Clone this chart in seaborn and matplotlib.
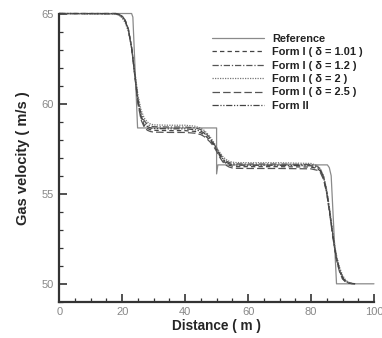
import matplotlib
matplotlib.use("Agg")
import matplotlib.pyplot as plt
import seaborn as sns
import pandas as pd
from matplotlib.ticker import MultipleLocator

# ---- data ----
x_ref = [0, 23.0, 23.4, 24.9, 50.0, 50.0, 50.4, 85.2, 85.8, 86.4, 88.1, 100]
y_ref = [65, 65, 64.8, 58.65, 58.65, 56.1, 56.6, 56.6, 56.45, 56.0, 50.0, 50.0]

x_num = [0, 18, 19, 20, 21, 22, 23, 24, 25, 26, 27, 28, 29, 30, 35, 40, 43, 45, 46, 47,
         48, 49, 50, 51, 52, 53, 54, 55, 56, 60, 70, 80, 82, 83, 84, 85, 86, 87, 88, 89,
         90, 91, 92, 93, 94]

y_f101 = [65.0, 65.0, 64.95, 64.85, 64.6, 64.1, 63.1, 61.6, 60.1, 59.2,
          58.8, 58.62, 58.55, 58.52, 58.5, 58.5, 58.46, 58.38, 58.28, 58.12,
          57.95, 57.72, 57.42, 57.1, 56.85, 56.68, 56.58, 56.53, 56.5, 56.5,
          56.5, 56.48, 56.4, 56.25, 55.85, 55.05, 53.85, 52.55, 51.45, 50.75,
          50.3, 50.12, 50.04, 50.01, 50.0]
y_f12 = [65.0, 64.98, 64.92, 64.8, 64.55, 64.05, 63.1, 61.7, 60.3, 59.45,
         59.05, 58.85, 58.76, 58.72, 58.7, 58.7, 58.66, 58.56, 58.45, 58.28,
         58.08, 57.82, 57.52, 57.22, 56.98, 56.82, 56.73, 56.68, 56.66, 56.65,
         56.65, 56.62, 56.52, 56.35, 55.95, 55.15, 53.95, 52.65, 51.55, 50.85,
         50.4, 50.16, 50.06, 50.02, 50.0]
y_f2 = [65.0, 64.97, 64.9, 64.75, 64.48, 63.98, 63.1, 61.8, 60.5, 59.65,
        59.2, 58.98, 58.87, 58.82, 58.8, 58.8, 58.75, 58.64, 58.52, 58.35,
        58.14, 57.88, 57.58, 57.3, 57.06, 56.9, 56.8, 56.75, 56.73, 56.72,
        56.72, 56.68, 56.56, 56.38, 55.98, 55.2, 54.05, 52.75, 51.65, 50.95,
        50.48, 50.2, 50.08, 50.03, 50.0]
y_f25 = [65.0, 65.0, 64.96, 64.87, 64.62, 64.12, 63.1, 61.55, 60.0, 59.1,
         58.7, 58.52, 58.45, 58.42, 58.4, 58.4, 58.36, 58.28, 58.18, 58.03,
         57.86, 57.64, 57.35, 57.02, 56.76, 56.58, 56.48, 56.43, 56.41, 56.4,
         56.4, 56.38, 56.3, 56.16, 55.78, 55.0, 53.8, 52.5, 51.4, 50.7,
         50.27, 50.1, 50.03, 50.01, 50.0]
y_f2b = [65.0, 64.99, 64.94, 64.83, 64.58, 64.08, 63.1, 61.65, 60.2, 59.3,
         58.92, 58.73, 58.65, 58.62, 58.6, 58.6, 58.56, 58.47, 58.37, 58.2,
         58.02, 57.78, 57.48, 57.16, 56.92, 56.75, 56.66, 56.61, 56.59, 56.58,
         56.58, 56.55, 56.46, 56.3, 55.9, 55.1, 53.9, 52.6, 51.5, 50.8,
         50.35, 50.14, 50.05, 50.02, 50.0]

labels = ["Reference", "Form I ( δ = 1.01 )", "Form I ( δ = 1.2 )",
          "Form I ( δ = 2 )", "Form I ( δ = 2.5 )", "Form II"]

x_ticks = [0, 20, 40, 60, 80, 100]
y_ticks = [50, 55, 60, 65]

# ---- long table ----
frames = [pd.DataFrame({"x": x_ref, "y": y_ref, "series": labels[0]})]
for lab, ys in zip(labels[1:], [y_f101, y_f12, y_f2, y_f25, y_f2b]):
    frames.append(pd.DataFrame({"x": x_num, "y": ys, "series": lab}))
df = pd.concat(frames, ignore_index=True)

sns.set_theme(style="white")
plt.rcParams["font.family"] = ["Liberation Sans", "DejaVu Sans"]

fig = plt.figure(figsize=(3.82, 3.38), dpi=100)
ax = fig.add_axes([0.155, 0.107, 0.824, 0.853])

palette = {labels[0]: "#8a8a8a", labels[1]: "#444444", labels[2]: "#555555",
           labels[3]: "#777777", labels[4]: "#555555", labels[5]: "#444444"}
dashes = {labels[0]: "", labels[1]: (3.5, 2.5), labels[2]: (5, 1.5, 1, 1.5),
          labels[3]: (1, 1), labels[4]: (6, 2.5), labels[5]: (5, 1.3, 1, 1.3, 1, 1.3)}

sns.lineplot(data=df, x="x", y="y", hue="series", style="series",
             hue_order=labels, style_order=labels,
             palette=palette, dashes=dashes, sort=False, estimator=None,
             linewidth=0.9, ax=ax, clip_on=False)

ax.set_xlim(0, 100)
ax.set_ylim(49, 65)
ax.set_xticks(x_ticks)
ax.set_yticks(y_ticks)
ax.xaxis.set_minor_locator(MultipleLocator(5))
ax.yaxis.set_minor_locator(MultipleLocator(1))
ax.tick_params(which="major", direction="in", length=6, width=1.2, color="#333333",
               labelsize=8, labelcolor="#888888", pad=4, left=True, bottom=True)
ax.tick_params(which="minor", direction="in", length=3, width=0.9, color="#333333",
               left=True, bottom=True)
for side in ["top", "right"]:
    ax.spines[side].set_visible(False)
for side in ["left", "bottom"]:
    ax.spines[side].set_color("#333333")
    ax.spines[side].set_linewidth(1.6)

ax.set_xlabel("Distance ( m )", fontsize=9.8, fontweight="bold", labelpad=1)
ax.set_ylabel("Gas velocity ( m/s )", fontsize=10.5, fontweight="bold", labelpad=8)

sns.move_legend(ax, "upper left", bbox_to_anchor=(0.473, 0.945), frameon=False,
                title=None, fontsize=7.9, handlelength=4.7, handletextpad=0.75,
                labelspacing=0.31, borderaxespad=0)
for t in ax.get_legend().get_texts():
    t.set_fontweight("bold")
    t.set_color("#222222")

fig.savefig("out.png", dpi=100)
